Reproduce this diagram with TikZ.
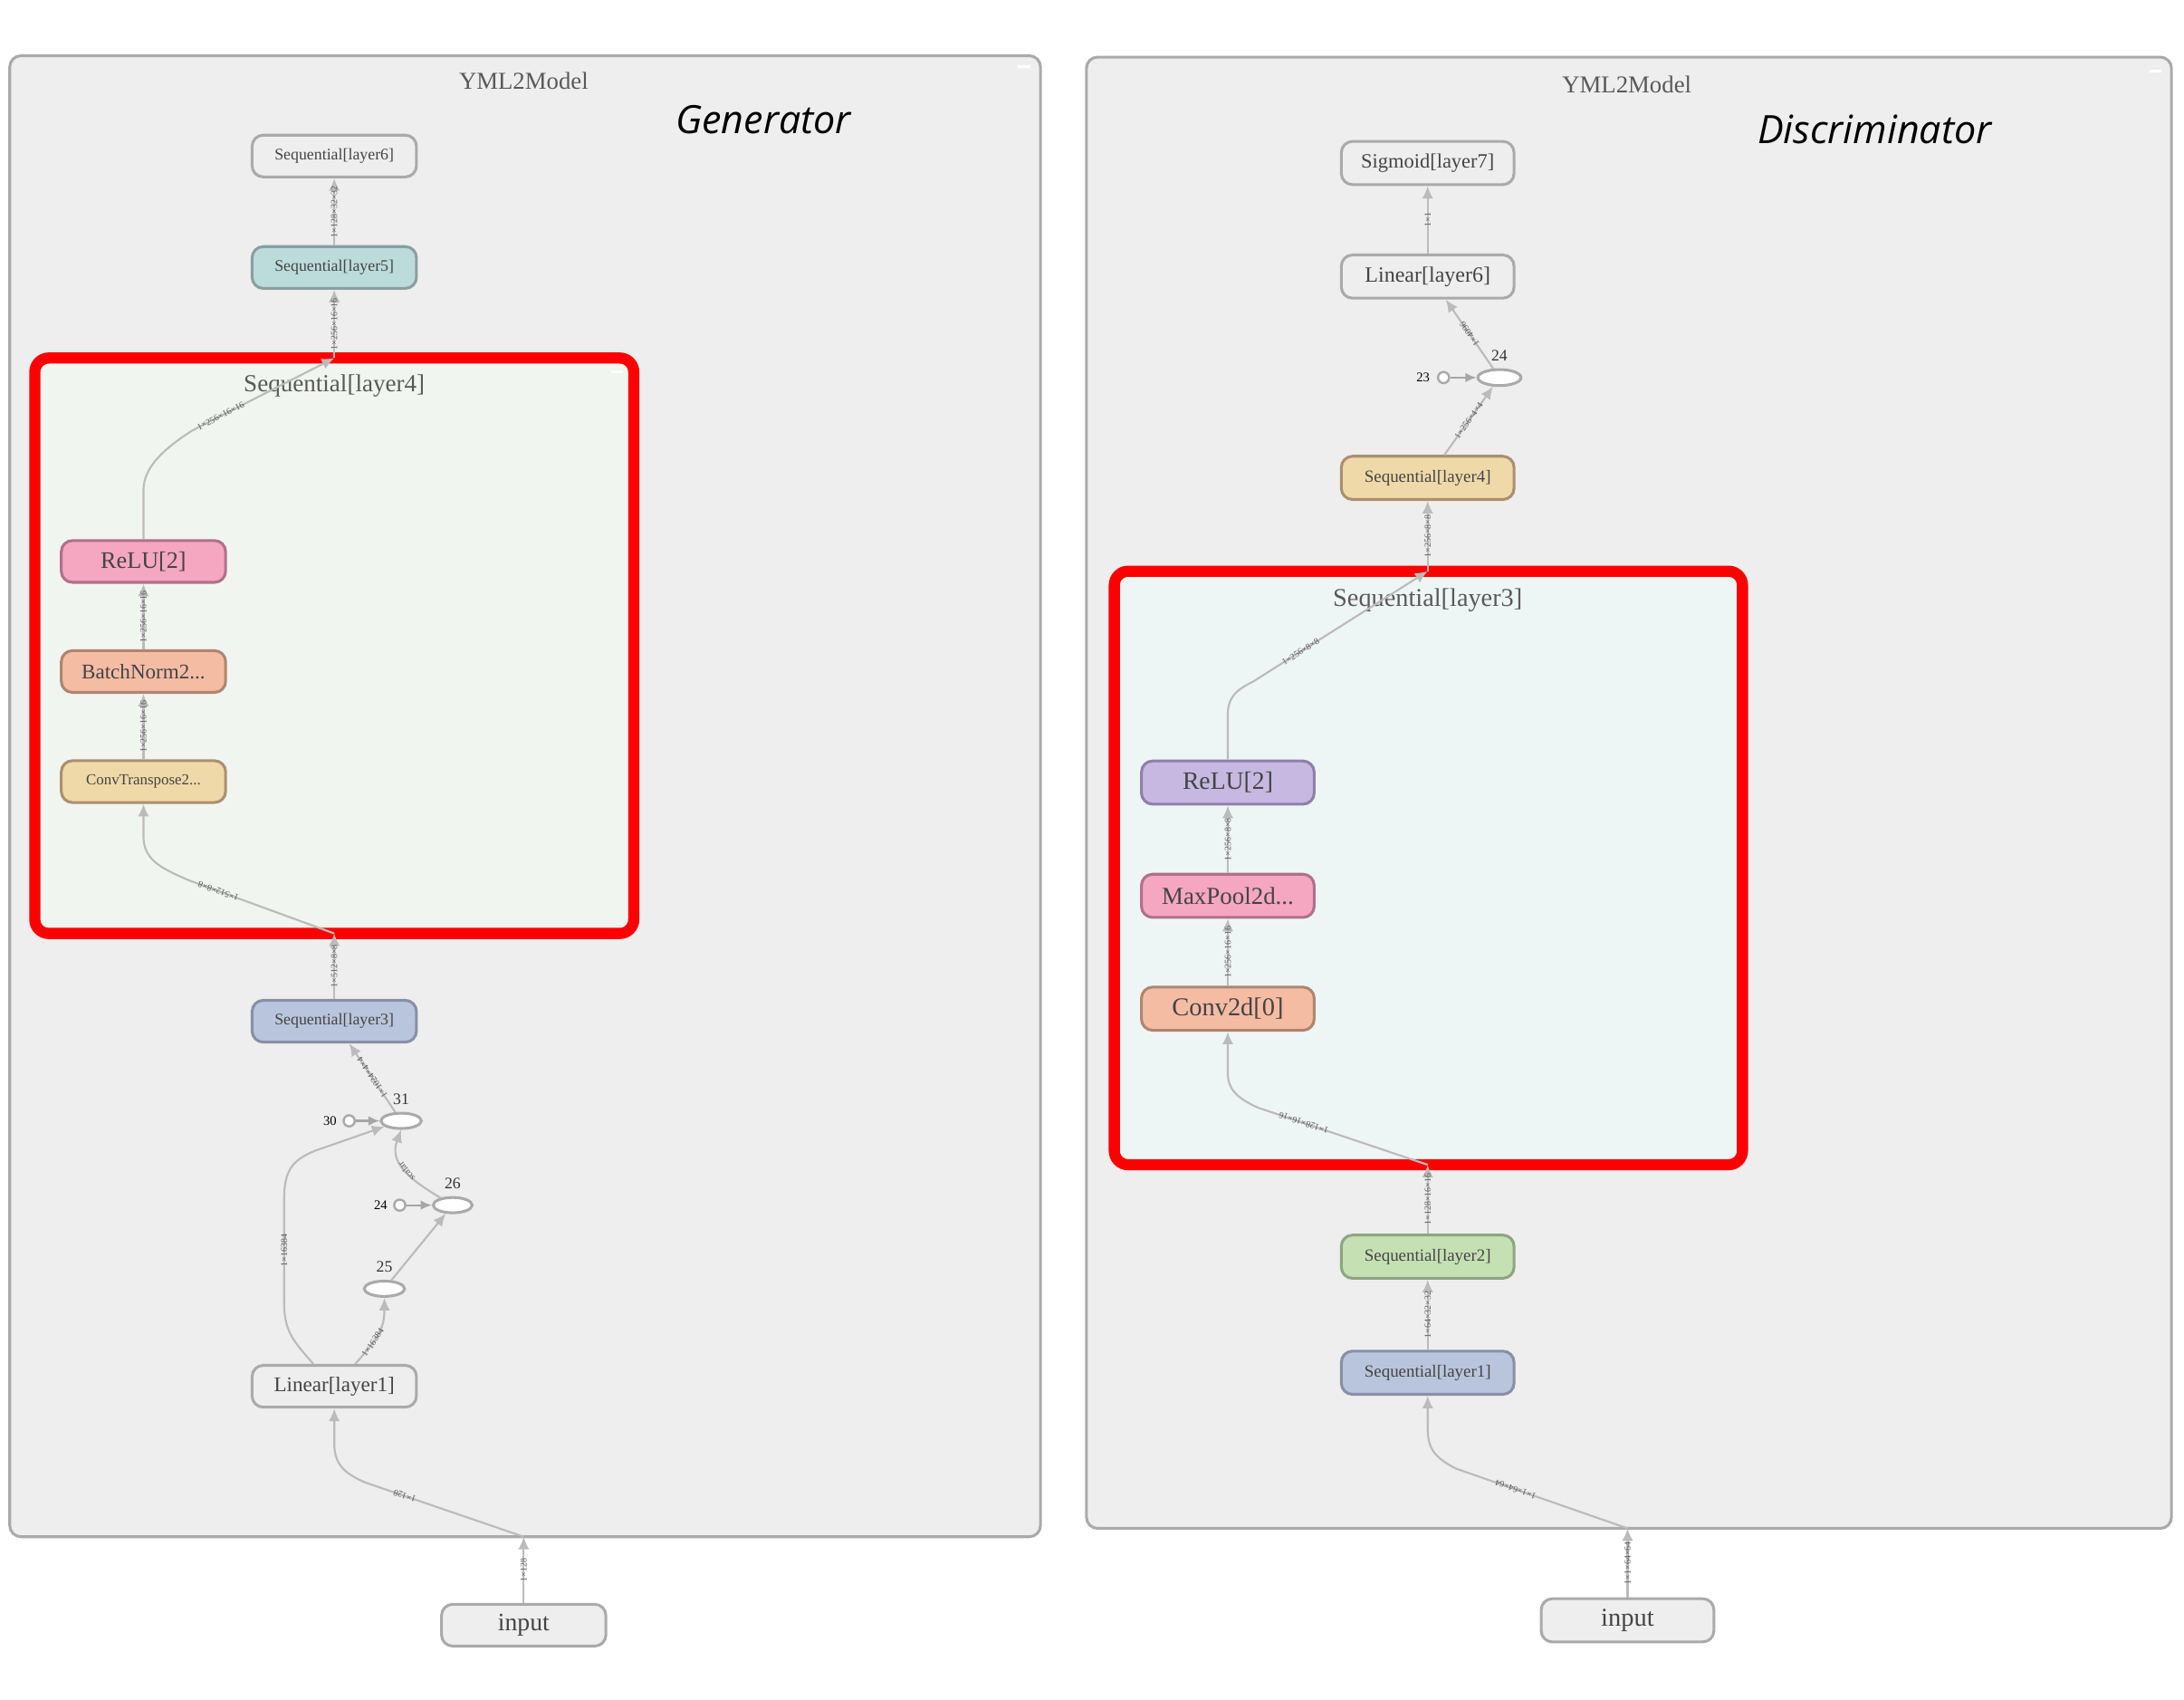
\documentclass[tikz,border=0pt]{standalone}
\usepackage{fontspec}
\setmainfont{Liberation Serif}
\newfontfamily\headfont{Open Sans}
\usetikzlibrary{arrows.meta,shapes.geometric}
\definecolor{panelfill}{HTML}{EEEEEE}
\definecolor{panelline}{HTML}{AAAAAA}
\definecolor{edgegrey}{HTML}{BBBBBB}
\definecolor{constgrey}{HTML}{A6A6A6}
\definecolor{textgrey}{HTML}{444444}
\definecolor{tealfill}{HTML}{BCDCDC}\definecolor{tealline}{HTML}{8A9F9F}
\definecolor{pinkfill}{HTML}{F5A6C1}\definecolor{pinkline}{HTML}{B0708A}
\definecolor{salmonfill}{HTML}{F5BCA4}\definecolor{salmonline}{HTML}{B08570}
\definecolor{tanfill}{HTML}{F0D9A8}\definecolor{tanline}{HTML}{AA9070}
\definecolor{bluefill}{HTML}{B9C5DC}\definecolor{blueline}{HTML}{8890A6}
\definecolor{purplefill}{HTML}{C6B8E0}\definecolor{purpleline}{HTML}{8F80AA}
\definecolor{greenfill}{HTML}{C5E1B4}\definecolor{greenline}{HTML}{8EA582}
\definecolor{genbox}{HTML}{F1F5EF}
\definecolor{disbox}{HTML}{EEF6F5}
\newcommand{\fsz}[1]{\fontsize{#1}{#1}\selectfont}
\tikzset{
panel/.style={draw=panelline,fill=panelfill,line width=2pt,rounded corners=8pt},
cluster/.style={draw=red,line width=8pt,rounded corners=10pt},
op/.style={draw,line width=2pt,rounded corners=8pt,minimum width=118pt,minimum height=30pt,inner sep=0pt,text=textgrey},
disop/.style={op,minimum width=124pt,minimum height=31pt},
plainop/.style={fill=panelfill,draw=panelline},
tealop/.style={fill=tealfill,draw=tealline},
pinkop/.style={fill=pinkfill,draw=pinkline},
salmonop/.style={fill=salmonfill,draw=salmonline},
tanop/.style={fill=tanfill,draw=tanline},
blueop/.style={fill=bluefill,draw=blueline},
purpleop/.style={fill=purplefill,draw=purpleline},
greenop/.style={fill=greenfill,draw=greenline},
oval/.style={ellipse,draw=panelline,fill=white,line width=2pt,minimum width=29pt,minimum height=11pt,inner sep=0pt},
const/.style={circle,draw=panelline,fill=white,line width=1.6pt,minimum size=8pt,inner sep=0pt},
numtext/.style={inner sep=0pt,text=black!80,font=\fsz{11.5}},
cnumtext/.style={inner sep=0pt,text=black,font=\fsz{9.5}},
flow/.style={draw=edgegrey,line width=1.4pt,-{Latex[length=9pt,width=8pt]}},
constflow/.style={draw=constgrey,line width=1.4pt,-{Latex[length=8pt,width=7pt]}},
dimlabel/.style={sloped,allow upside down,inner sep=1pt,text=black!65,font=\fsz{6.5}},
heading/.style={text=black!65,font=\fsz{17.4}},
bigname/.style={font=\headfont\itshape\fsz{28}},
minimize/.style={draw=white,line width=2pt}
}
\begin{document}
\begin{tikzpicture}[x=1pt,y=-1pt]
\useasboundingbox (0,0) rectangle (1568,1220.2);
% outer panels
\draw[panel] (7,40) rectangle (747,1103);
\draw[panel] (780,41) rectangle (1559,1097);
\draw[minimize] (731,48) -- (740,48);
\draw[minimize] (1543,51) -- (1552,51);
\node[heading] (genTitle) at (376,58) {YML2Model};
\node[heading] (disTitle) at (1168,61) {YML2Model};
\node[bigname] (genName) at (548,86) {Generator};
\node[bigname] (disName) at (1346,93) {Discriminator};
% expanded subgraphs
\draw[cluster,fill=genbox] (25,257) rectangle (455,670);
\draw[cluster,fill=disbox] (800,410) rectangle (1251,836);
\draw[minimize] (439,267) -- (447,267);
\node[heading,font=\fsz{17.6}] (genL4) at (240,277) {Sequential[layer4]};
\node[heading,font=\fsz{18.4}] (disL3) at (1025,431) {Sequential[layer3]};
\coordinate (genTop) at (240,257);
\coordinate (genBot) at (240,670);
\coordinate (disTop) at (1025,410);
\coordinate (disBot) at (1025,836);
\coordinate (genPort) at (376,1103);
\coordinate (disPort) at (1168.5,1097);

% generator
\node[op,plainop,font=\fsz{11.6}] (genL6) at (240,112) {Sequential[layer6]};
\node[op,tealop,font=\fsz{11.6}] (genL5) at (240,192) {Sequential[layer5]};
\node[op,pinkop,font=\fsz{17}] (genRelu) at (103,403) {ReLU[2]};
\node[op,salmonop,font=\fsz{15}] (genBn) at (103,482) {BatchNorm2...};
\node[op,tanop,font=\fsz{11}] (genConvT) at (103,561) {ConvTranspose2...};
\node[op,blueop,font=\fsz{11.6}] (genL3) at (240,733) {Sequential[layer3]};
\node[oval,label={[numtext,label distance=5pt]above:31}] (op31) at (288,804.5) {};
\node[const,label={[cnumtext,label distance=4pt]left:30}] (op30) at (250.7,804.5) {};
\node[oval,minimum width=28pt,label={[numtext,label distance=5pt]above:26}] (op26) at (325,865) {};
\node[const,label={[cnumtext,label distance=4pt]left:24}] (op24) at (287,865) {};
\node[oval,label={[numtext,label distance=5pt]above:25}] (op25) at (276,925) {};
\node[op,plainop,font=\fsz{15}] (genL1) at (240,995) {Linear[layer1]};
\node[op,plainop,font=\fsz{18}] (genIn) at (376,1166.5) {input};

\draw[flow] (genIn) -- node[dimlabel]{1×128} (genPort);
\draw[flow] (genPort) -- node[dimlabel,pos=0.75]{1×128} (262,1064) .. controls (246,1057) and (240,1050) .. (240,1036) -- (genL1);
\draw[flow] ([xshift=-15pt]genL1.north) .. controls (210,962) and (204,955) .. (204,935) -- node[dimlabel]{1×16384} (204,860) .. controls (204,838) and (212,832) .. (226,826) -- (op31);
\draw[flow] ([xshift=15pt]genL1.north) .. controls (270,962) and (276,955) .. node[dimlabel,pos=0.35]{1×16384} (op25.south);
\draw[flow] (op25) -- (op26);
\draw[constflow] (op24) -- (op26);
\draw[constflow] (op30) -- (op31);
\draw[flow] (op26) .. controls (295,847) and (279,835) .. node[dimlabel,pos=0.47]{scalar} (op31.south);
\draw[flow] (op31) -- node[dimlabel]{1×1024×4×4} (genL3);
\draw[flow] (genL3) -- node[dimlabel]{1×512×8×8} (genBot);
\draw[flow] (genBot) -- node[dimlabel,pos=0.8]{1×512×8×8} (136,632) .. controls (115,623) and (103,617) .. (103,600) -- (genConvT);
\draw[flow] (genConvT) -- node[dimlabel]{1×256×16×16} (genBn);
\draw[flow] (genBn) -- node[dimlabel]{1×256×16×16} (genRelu);
\draw[flow] (genRelu) -- (103,352) .. controls (103,335) and (118,322) .. (138,309) -- node[dimlabel,pos=0.2]{1×256×16×16} (genTop);
\draw[flow] (genTop) -- node[dimlabel]{1×256×16×16} (genL5);
\draw[flow] (genL5) -- node[dimlabel]{1×128×32×32} (genL6);

% discriminator
\node[disop,plainop,font=\fsz{14.6}] (disL7) at (1025,117) {Sigmoid[layer7]};
\node[disop,plainop,font=\fsz{15.6}] (disL6) at (1025,198.5) {Linear[layer6]};
\node[oval,minimum width=31pt,minimum height=11.5pt,label={[numtext,label distance=5pt]above:24}] (op24d) at (1076.5,271) {};
\node[const,label={[cnumtext,label distance=5pt]left:23}] (op23d) at (1036.4,271) {};
\node[disop,tanop,font=\fsz{12.3}] (disL4) at (1025,343) {Sequential[layer4]};
\node[disop,purpleop,font=\fsz{18}] (disRelu) at (881.5,561.7) {ReLU[2]};
\node[disop,pinkop,font=\fsz{17.5}] (disPool) at (881.5,643) {MaxPool2d...};
\node[disop,salmonop,font=\fsz{18.5}] (disConv) at (881.5,724) {Conv2d[0]};
\node[disop,greenop,font=\fsz{12.3}] (disL2) at (1025,902) {Sequential[layer2]};
\node[disop,blueop,font=\fsz{12.3}] (disL1) at (1025,985.3) {Sequential[layer1]};
\node[disop,plainop,font=\fsz{18.5}] (disIn) at (1168.5,1163) {input};

\draw[flow] (disIn) -- node[dimlabel]{1×1×64×64} (disPort);
\draw[flow] (disPort) -- node[dimlabel,pos=0.65]{1×1×64×64} (1045,1054) .. controls (1030,1046) and (1025,1040) .. (1025,1025) -- (disL1);
\draw[flow] (disL1) -- node[dimlabel]{1×64×32×32} (disL2);
\draw[flow] (disL2) -- node[dimlabel]{1×128×16×16} (disBot);
\draw[flow] (disBot) -- node[dimlabel,pos=0.73]{1×128×16×16} (903,795) .. controls (888,788) and (881.5,782) .. (881.5,770) -- (disConv);
\draw[flow] (disConv) -- node[dimlabel]{1×256×16×16} (disPool);
\draw[flow] (disPool) -- node[dimlabel]{1×256×8×8} (disRelu);
\draw[flow] (disRelu) -- (881.5,513) .. controls (881.5,500) and (888,495) .. (900,489) -- node[dimlabel,pos=0.27]{1×256×8×8} (disTop);
\draw[flow] (disTop) -- node[dimlabel]{1×256×8×8} (disL4);
\draw[flow] ([xshift=12pt]disL4.north) -- node[dimlabel]{1×256×4×4} (op24d);
\draw[constflow] (op23d) -- (op24d);
\draw[flow] (op24d) -- node[dimlabel]{1×4096} ([xshift=13pt]disL6.south);
\draw[flow] (disL6) -- node[dimlabel]{1×1} (disL7);
\end{tikzpicture}
\end{document}
